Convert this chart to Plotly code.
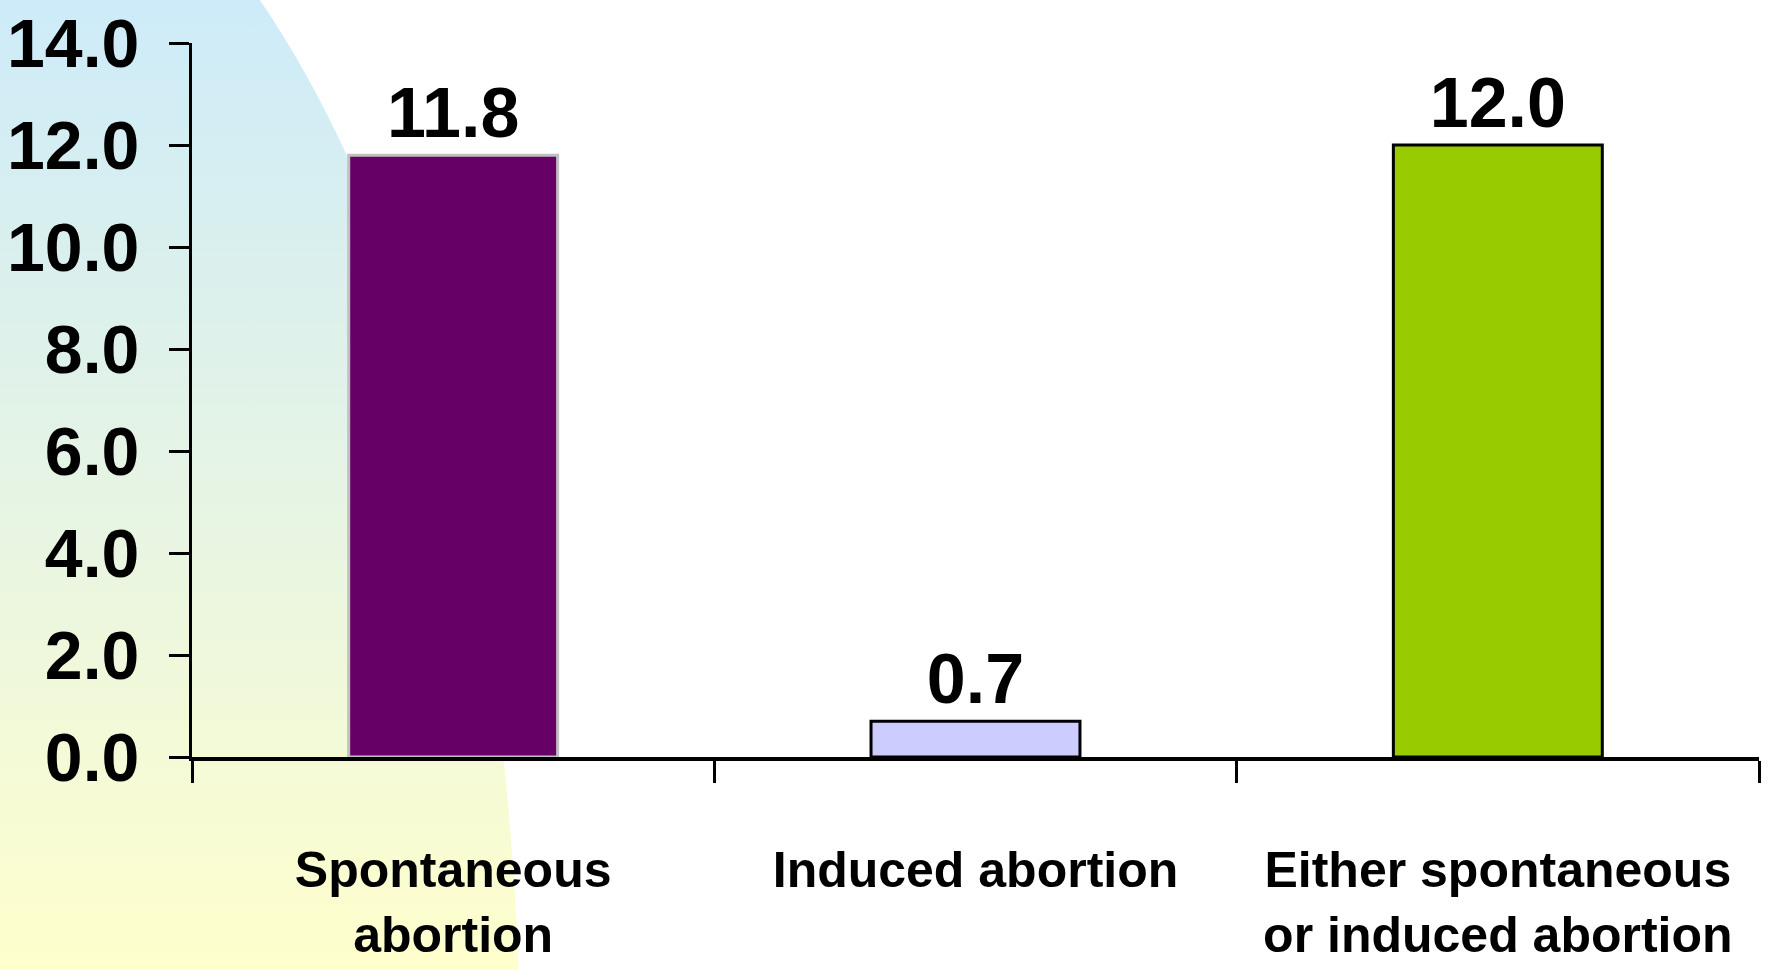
import base64
import plotly.graph_objects as go

categories = ["Spontaneous<br>abortion", "Induced abortion", "Either spontaneous<br>or induced abortion"]
values = [11.8, 0.7, 12.0]
bar_colors = ["#660066", "#CCCCFF", "#99CC00"]
bar_edges = ["#C0C0C0", "#000000", "#000000"]
y_ticks = [0, 2, 4, 6, 8, 10, 12, 14]

W, H = 1770, 970
L, R, T, B = 192, 11, 43, 213
FONT = "Liberation Sans, Arial, sans-serif"

# soft gradient backdrop in the top-left corner
svg = f"""<svg xmlns='http://www.w3.org/2000/svg' width='{W}' height='{H}' viewBox='0 0 {W} {H}' preserveAspectRatio='none'>
<defs><linearGradient id='g' gradientUnits='userSpaceOnUse' x1='0' y1='0' x2='0' y2='{H}'>
<stop offset='0' stop-color='#CDEBF9'/><stop offset='0.55' stop-color='#E8F5E2'/><stop offset='1' stop-color='#FFFFCC'/>
</linearGradient></defs>
<ellipse cx='-72' cy='1060' rx='592' ry='1280' fill='url(#g)'/>
</svg>"""
src = "data:image/svg+xml;base64," + base64.b64encode(svg.encode()).decode()

pw, ph = W - L - R, H - T - B

fig = go.Figure()
fig.add_trace(go.Bar(
    x=categories, y=values,
    marker=dict(color=bar_colors, line=dict(color=bar_edges, width=3)),
    text=[f"{v:.1f}" for v in values], textposition="outside",
    textfont=dict(family=FONT, size=70, color="black", weight="bold"),
    constraintext="none", cliponaxis=False, hoverinfo="skip",
))

fig.update_layout(
    width=W, height=H,
    margin=dict(l=L, r=R, t=T, b=B, autoexpand=False),
    paper_bgcolor="white", plot_bgcolor="rgba(0,0,0,0)",
    bargap=0.6, showlegend=False,
    images=[dict(source=src, xref="paper", yref="paper",
                 x=-L / pw, y=1 + T / ph, sizex=W / pw, sizey=H / ph,
                 sizing="stretch", xanchor="left", yanchor="top", layer="below")],
)

fig.update_xaxes(
    type="category", range=[-0.5, 2.5], tickson="boundaries",
    ticks="outside", ticklen=22, tickwidth=3, tickcolor="black",
    showline=True, linewidth=4, linecolor="black", showgrid=False,
    tickfont=dict(family=FONT, size=50, color="black", weight="bold"),
    tickangle=0, automargin=False, ticklabelstandoff=66,
)

fig.update_yaxes(
    range=[0, 14], tickvals=y_ticks, tickformat=".1f",
    ticks="outside", ticklen=20, tickwidth=3, tickcolor="black",
    showline=True, linewidth=3, linecolor="black", showgrid=False, zeroline=False,
    tickfont=dict(family=FONT, size=68, color="black", weight="bold"),
    automargin=False, ticklabelstandoff=16,
)

fig.write_html("out.html", config={"displayModeBar": False},
               post_script="document.body.style.margin='0';")
